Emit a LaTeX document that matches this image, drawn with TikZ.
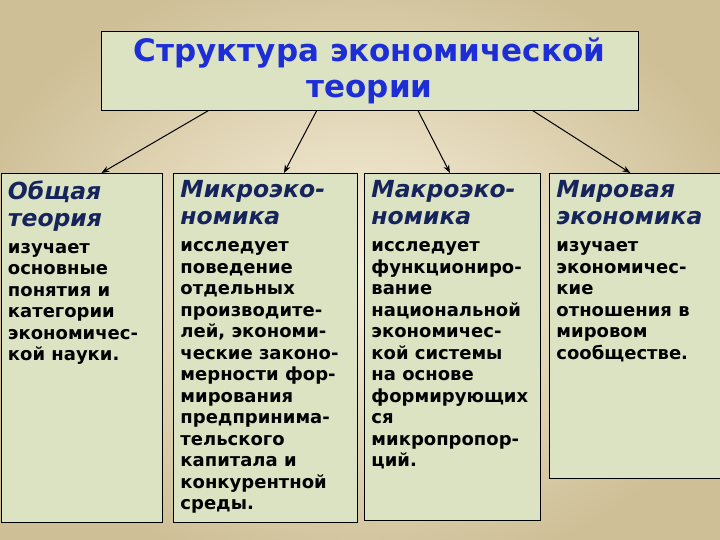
\documentclass[tikz,border=0pt]{standalone}
\usepackage{fontspec}
\setmainfont{DejaVu Sans}[BoldFont={DejaVu Sans Bold},ItalicFont={DejaVu Sans Oblique},BoldItalicFont={DejaVu Sans Bold Oblique}]
\usepackage{tikz}
\usetikzlibrary{calc,arrows.meta}
\definecolor{bgedge}{RGB}{206,191,150}
\definecolor{bgmid}{RGB}{248,241,222}
\definecolor{boxfill}{RGB}{220,227,195}
\definecolor{titleblue}{RGB}{30,46,214}
\definecolor{headnavy}{RGB}{22,36,92}
\newcommand{\headfont}{\fontsize{23.5}{27}\bfseries\itshape\selectfont\color{headnavy}}
\newcommand{\bodyfont}{\fontsize{18}{21.5}\bfseries\selectfont\color{black}}
\tikzset{
  fieldbox/.style n args={2}{draw=black, line width=0.9pt, fill=boxfill, anchor=north west,
    inner xsep=7pt, inner ysep=7pt,
    execute at begin node={\begin{minipage}[t][#2][t]{#1}\raggedright},
    execute at end node={\end{minipage}}},
  pfeil/.style={-{Stealth[length=8pt,width=6pt]}, line width=1pt}
}

\begin{document}
\begin{tikzpicture}[x=1pt,y=-1pt]
\useasboundingbox (0,0) rectangle (720,540);
\clip (0,0) rectangle (720,540);
\shade[inner color=bgmid, outer color=bgedge] (-40,-40) rectangle (760,580);

\node[draw=black, line width=0.9pt, fill=boxfill, minimum width=537pt, minimum height=79pt,
  align=center, text=titleblue, font=\fontsize{31}{36}\bfseries\selectfont]
  (title) at (369.5,70.5) {Структура экономической\\теории};

\node[fieldbox={147pt}{335pt}] (general) at (0.5,173) {%
{\headfont Общая\\теория\par}\vspace{5.5pt}
{\bodyfont изучает\\основные\\понятия и\\категории\\экономичес-\\кой науки.\par}};

\node[fieldbox={170pt}{335pt}] (micro) at (173,173) {%
{\headfont Микроэко-\\номика\par}\vspace{5.5pt}
{\bodyfont исследует\\поведение\\отдельных\\производите-\\лей, экономи-\\ческие законо-\\мерности фор-\\мирования\\предпринима-\\тельского\\капитала и\\конкурентной\\среды.\par}};

\node[fieldbox={162pt}{333pt}] (macro) at (364,173) {%
{\headfont Макроэко-\\номика\par}\vspace{5.5pt}
{\bodyfont исследует\\функциониро-\\вание\\национальной\\экономичес-\\кой системы\\на основе\\формирующих\\ся\\микропропор-\\ций.\par}};

\node[fieldbox={170pt}{291pt}] (world) at (549,173) {%
{\headfont Мировая\\экономика\par}\vspace{5.5pt}
{\bodyfont изучает\\экономичес-\\кие\\отношения в\\мировом\\сообществе.\par}};

\draw[pfeil] ($(title.south west)!0.201!(title.south east)$) -- ($(general.north west)!0.623!(general.north east)$);
\draw[pfeil] ($(title.south west)!0.402!(title.south east)$) -- ($(micro.north west)!0.6!(micro.north east)$);
\draw[pfeil] ($(title.south west)!0.59!(title.south east)$) -- ($(macro.north west)!0.486!(macro.north east)$);
\draw[pfeil] ($(title.south west)!0.803!(title.south east)$) -- ($(world.north west)!0.44!(world.north east)$);
\end{tikzpicture}
\end{document}
